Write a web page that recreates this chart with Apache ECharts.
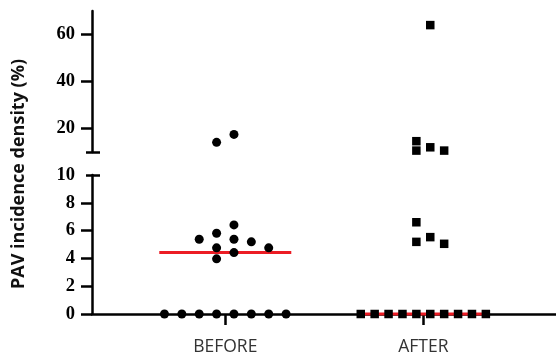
<!DOCTYPE html>
<html>
<head>
<meta charset="utf-8">
<script src="https://cdn.jsdelivr.net/npm/echarts@6/dist/echarts.min.js"></script>
<style>html,body{margin:0;padding:0;background:#fff}#c{width:556px;height:352px}</style>
</head>
<body>
<div id="c"></div>
<script>
// ---- data ----
const categories = ['BEFORE', 'AFTER'];
const beforeValues = [0, 0, 0, 0, 0, 0, 0, 0, 3.97, 4.42, 4.76, 4.76, 5.19, 5.38, 5.38, 5.81, 6.41, 14.1, 17.5];
const afterValues = [0, 0, 0, 0, 0, 0, 0, 0, 0, 0, 5.05, 5.19, 5.53, 6.6, 10.6, 10.6, 12.0, 14.6, 64.0];
const lowerTicks = [0, 2, 4, 6, 8, 10];
const upperTicks = [20, 40, 60];
const axisName = 'PAV incidence density (%)';

// ---- layout ----
const W = 556;
const GL = 92;
const lowerGrid = { left: GL, right: 0, top: 175, height: 139 };
const upperGrid = { left: GL, right: 0, top: 11, height: 141 };
const lowerRange = [0, 10];
const upperRange = [10, 70];
const xMin = 0.327, xMax = 2.670;
const xPx = (W - GL) / (xMax - xMin);
const lowerPx = lowerGrid.height / (lowerRange[1] - lowerRange[0]);
const upperPx = upperGrid.height / (upperRange[1] - upperRange[0]);
const DIAM = 9;
const HALF_LINE = 66; // px half-width of median line

function median(arr) {
  const s = arr.slice().sort((a, b) => a - b);
  const n = s.length;
  return n % 2 ? s[(n - 1) / 2] : (s[n / 2 - 1] + s[n / 2]) / 2;
}

function swarm(values, center) {
  const counts = {};
  values.forEach(v => counts[v] = (counts[v] || 0) + 1);
  const maxTies = Math.max(...Object.values(counts));
  const stepPx = Math.min(17.5, 139 / maxTies);
  const order = values.map((v, i) => i).sort((a, b) => values[b] - values[a]);
  const placed = [];
  let L = 0, R = 0;
  const lower = [], upper = [];
  for (const i of order) {
    const v = values[i];
    const g = v > lowerRange[1] ? 1 : 0;
    const py = g ? (upperRange[1] - v) * upperPx : (lowerRange[1] - v) * lowerPx;
    for (let k = 0; ; k++) {
      const m = k + 0.5;
      const sides = R <= L ? [m, -m] : [-m, m];
      let chosen = null;
      for (const s of sides) {
        if (!placed.some(p => p.g === g && p.slot === s && Math.abs(p.py - py) < DIAM)) { chosen = s; break; }
      }
      if (chosen !== null) {
        placed.push({ g, slot: chosen, py });
        if (chosen > 0) R++; else L++;
        const pt = [center + chosen * stepPx / xPx, v];
        (g ? upper : lower).push(pt);
        break;
      }
    }
  }
  return { lower, upper };
}

const groups = [beforeValues, afterValues];
const symbols = ['circle', 'rect'];
const series = [];
groups.forEach((vals, gi) => {
  const c = gi + 1;
  const med = median(vals);
  const mg = med > lowerRange[1] ? 1 : 0;
  series.push({
    type: 'line', xAxisIndex: mg, yAxisIndex: mg ? 3 : 0,
    data: [[c - HALF_LINE / xPx, med], [c + HALF_LINE / xPx, med]],
    symbol: 'none', lineStyle: { color: '#ec1c24', width: 3 }, z: 3, silent: true, clip: false
  });
  const sw = swarm(vals, c);
  const sty = { color: '#000', opacity: 1 };
  const size = symbols[gi] === 'rect' ? 8.5 : 9;
  series.push({
    type: 'scatter', xAxisIndex: 0, yAxisIndex: 0, data: sw.lower,
    symbol: symbols[gi], symbolSize: size, itemStyle: sty, z: 4, silent: true, clip: false
  });
  series.push({
    type: 'scatter', xAxisIndex: 1, yAxisIndex: 3, data: sw.upper,
    symbol: symbols[gi], symbolSize: size, itemStyle: sty, z: 4, silent: true, clip: false
  });
});

const blk = '#000';
const yLabelStyle = { color: blk, fontFamily: 'Liberation Serif', fontWeight: 'bold', fontSize: 18.5, margin: 17 };
function capAxis(grid, range, val, inside, len) {
  return {
    type: 'value', gridIndex: grid, min: range[0], max: range[1], position: 'left',
    axisLine: { show: false }, splitLine: { show: false }, axisLabel: { show: false },
    axisTick: { show: true, inside: inside, length: len, customValues: [val], lineStyle: { color: blk, width: 2.5 } }
  };
}

const option = {
  animation: false,
  backgroundColor: '#fff',
  grid: [
    { left: lowerGrid.left, right: lowerGrid.right, top: lowerGrid.top, height: lowerGrid.height, outerBoundsMode: 'none', containLabel: false },
    { left: upperGrid.left, right: upperGrid.right, top: upperGrid.top, height: upperGrid.height, outerBoundsMode: 'none', containLabel: false }
  ],
  xAxis: [
    {
      type: 'value', gridIndex: 0, min: xMin, max: xMax,
      axisLine: { show: true, onZero: false, lineStyle: { color: blk, width: 2.5 } },
      axisTick: { show: true, length: 11, customValues: [1, 2], lineStyle: { color: blk, width: 2.5 } },
      axisLabel: {
        customValues: [1, 2], formatter: v => categories[Math.round(v) - 1],
        color: '#333', fontFamily: 'Open Sans', fontSize: 17.5, margin: 24
      },
      splitLine: { show: false }
    },
    { type: 'value', gridIndex: 1, min: xMin, max: xMax, show: false }
  ],
  yAxis: [
    {
      type: 'value', gridIndex: 0, min: lowerRange[0], max: lowerRange[1], position: 'left',
      axisLine: { show: true, lineStyle: { color: blk, width: 2.5 } },
      axisTick: { show: true, length: 11, customValues: lowerTicks.filter(t => t !== lowerRange[1]), lineStyle: { color: blk, width: 2.5 } },
      axisLabel: Object.assign({ customValues: lowerTicks }, yLabelStyle),
      splitLine: { show: false }
    },
    capAxis(0, lowerRange, lowerRange[1], false, 6),
    capAxis(0, lowerRange, lowerRange[1], true, 8),
    {
      type: 'value', gridIndex: 1, min: upperRange[0], max: upperRange[1], position: 'left',
      axisLine: { show: true, lineStyle: { color: blk, width: 2.5 } },
      axisTick: { show: true, length: 11, customValues: upperTicks, lineStyle: { color: blk, width: 2.5 } },
      axisLabel: Object.assign({ customValues: upperTicks }, yLabelStyle),
      splitLine: { show: false }
    },
    capAxis(1, upperRange, upperRange[0], false, 6),
    capAxis(1, upperRange, upperRange[0], true, 8)
  ],
  graphic: [{
    type: 'text', x: 19, y: 174, rotation: Math.PI / 2,
    style: {
      text: axisName, fill: '#111', font: 'bold 18px "Open Sans"',
      textAlign: 'center', textVerticalAlign: 'middle'
    }
  }],
  series: series
};

const chart = echarts.init(document.getElementById('c'), null, { renderer: 'canvas' });
chart.setOption(option);
</script>
</body>
</html>
